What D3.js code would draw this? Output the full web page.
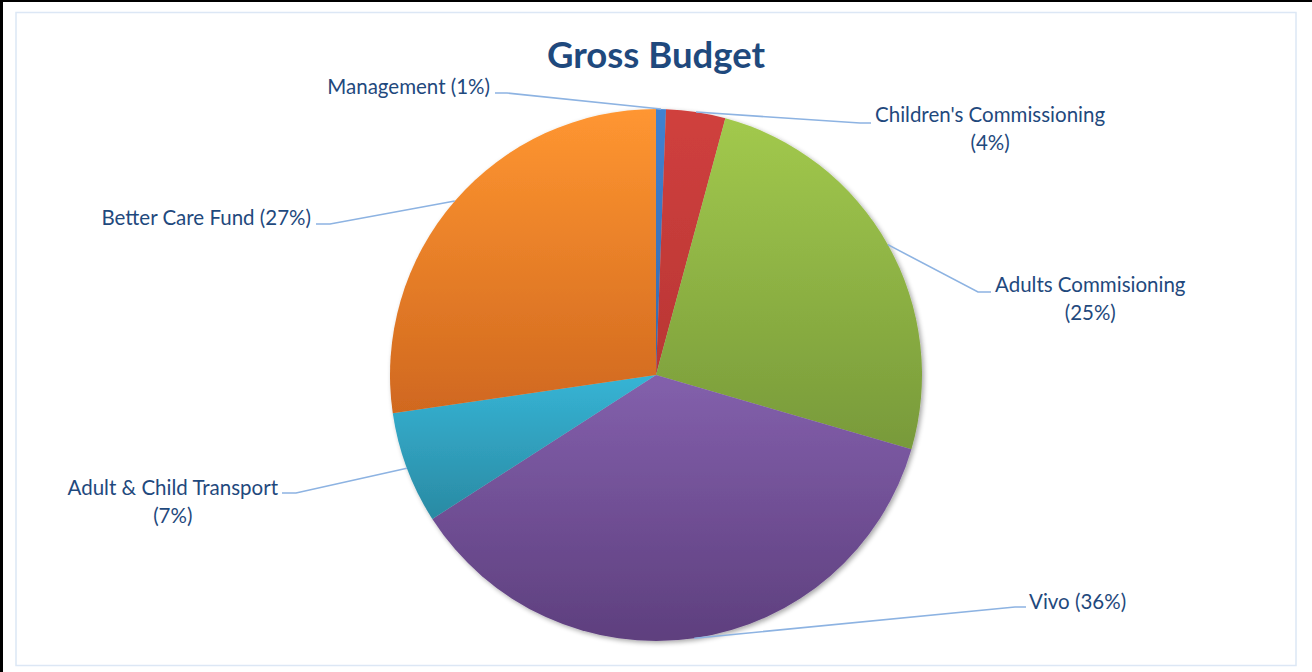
<!DOCTYPE html>
<html>
<head>
<meta charset="utf-8">
<script src="https://cdn.jsdelivr.net/npm/d3@7"></script>
<style>
  html, body { margin: 0; padding: 0; background: #fff; }
  svg { display: block; }
  text { font-family: Lato, "Open Sans", sans-serif; }
</style>
</head>
<body>
<svg id="chart" width="1312" height="672"></svg>
<script>
// Budget split (share of gross budget, %)
const categories = [
  "Management",
  "Children's Commissioning",
  "Adults Commisioning",
  "Vivo",
  "Adult & Child Transport",
  "Better Care Fund"
];
const values = [0.6, 3.6, 25.3, 36.4, 6.8, 27.3];

// Slice colours: light (top) and dark (bottom) gradient stops
const colorsTop    = ["#4182d2", "#d0403e", "#a2c94d", "#8360ac", "#36b4d5", "#ff9631"];
const colorsBottom = ["#3769ab", "#b93634", "#789a3a", "#5e3f7e", "#2a8aa3", "#d0681f"];

// Label placement: text anchor (tx, ty), leader elbow (ex, ey), leader end x (hx)
const labelLayout = [
  { tx: 490,  ty: 94,  ex: 507,  ey: 93,  hx: 495,  anchor: "end",   lines: 1 },
  { tx: 875,  ty: 122, ex: 860,  ey: 123, hx: 871,  anchor: "start", lines: 2 },
  { tx: 995,  ty: 292, ex: 978,  ey: 292, hx: 991,  anchor: "start", lines: 2 },
  { tx: 1029, ty: 609, ex: 1015, ey: 607, hx: 1026, anchor: "start", lines: 1 },
  { tx: 278,  ty: 495, ex: 296,  ey: 493, hx: 282,  anchor: "end",   lines: 2 },
  { tx: 311,  ty: 225, ex: 330,  ey: 224, hx: 316,  anchor: "end",   lines: 1 }
];

const W = 1312, H = 672;
const cx = 656, cy = 375, r = 266;
const labelSize = 20.5;

const svg = d3.select("#chart");

// Outer frame
svg.append("rect").attr("x", 0).attr("y", 0).attr("width", W).attr("height", 2).attr("fill", "#000");
svg.append("rect").attr("x", 0).attr("y", 0).attr("width", 3).attr("height", H).attr("fill", "#000");
svg.append("rect")
  .attr("x", 16).attr("y", 12.5).attr("width", 1280).attr("height", 653)
  .attr("fill", "none").attr("stroke", "#dce7f5").attr("stroke-width", 1.5);

const defs = svg.append("defs");
// Vertical gradient over each slice's own bounding box
colorsTop.forEach((c, i) => {
  const g = defs.append("linearGradient")
    .attr("id", "grad" + i)
    .attr("x1", 0).attr("y1", 0).attr("x2", 0).attr("y2", 1);
  g.append("stop").attr("offset", "0%").attr("stop-color", c);
  g.append("stop").attr("offset", "100%").attr("stop-color", colorsBottom[i]);
});
const shadow = defs.append("filter").attr("id", "shadow")
  .attr("x", "-10%").attr("y", "-10%").attr("width", "120%").attr("height", "120%");
shadow.append("feGaussianBlur").attr("in", "SourceAlpha").attr("stdDeviation", 2.5).attr("result", "b");
shadow.append("feOffset").attr("in", "b").attr("dx", 1.5).attr("dy", 1.5).attr("result", "o");
shadow.append("feComponentTransfer").attr("in", "o").attr("result", "s")
  .append("feFuncA").attr("type", "linear").attr("slope", 0.35);
const merge = shadow.append("feMerge");
merge.append("feMergeNode").attr("in", "s");
merge.append("feMergeNode").attr("in", "SourceGraphic");

// Title
svg.append("text")
  .attr("x", cx).attr("y", 68)
  .attr("text-anchor", "middle")
  .attr("font-size", 36.5).attr("font-weight", 700)
  .attr("fill", "#1f497d")
  .text("Gross Budget");

const data = categories.map((name, i) => ({ name, value: values[i], i }));
const total = d3.sum(values);
const pct = d3.format(".0%");

const pie = d3.pie().value(d => d.value).sort(null);
const arcs = pie(data);
const arc = d3.arc().innerRadius(0).outerRadius(r);

const g = svg.append("g").attr("transform", `translate(${cx},${cy})`);
g.append("g").attr("filter", "url(#shadow)")
  .selectAll("path").data(arcs).join("path")
  .attr("d", arc)
  .attr("fill", d => `url(#grad${d.data.i})`);

// Leader lines and labels
const lineG = svg.append("g");
const labelG = svg.append("g");
arcs.forEach((d, i) => {
  const L = labelLayout[i];
  const mid = (d.startAngle + d.endAngle) / 2;
  const px = cx + Math.sin(mid) * r;
  const py = cy - Math.cos(mid) * r;
  lineG.append("polyline")
    .attr("points", `${px},${py} ${L.ex},${L.ey} ${L.hx},${L.ey}`)
    .attr("fill", "none").attr("stroke", "#8db3e2").attr("stroke-width", 1.6);

  const share = pct(d.data.value / total);
  const t = labelG.append("text")
    .attr("font-size", labelSize).attr("fill", "#1f497d");
  if (L.lines === 1) {
    t.attr("x", L.tx).attr("y", L.ty).attr("text-anchor", L.anchor)
      .text(`${d.data.name} (${share})`);
  } else {
    t.attr("x", L.tx).attr("y", L.ty).attr("text-anchor", L.anchor).text(d.data.name);
    const w = t.node().getComputedTextLength();
    const centre = L.anchor === "end" ? L.tx - w / 2 : L.tx + w / 2;
    labelG.append("text")
      .attr("font-size", labelSize).attr("fill", "#1f497d")
      .attr("x", centre).attr("y", L.ty + 28)
      .attr("text-anchor", "middle")
      .text(`(${share})`);
  }
});
</script>
</body>
</html>
